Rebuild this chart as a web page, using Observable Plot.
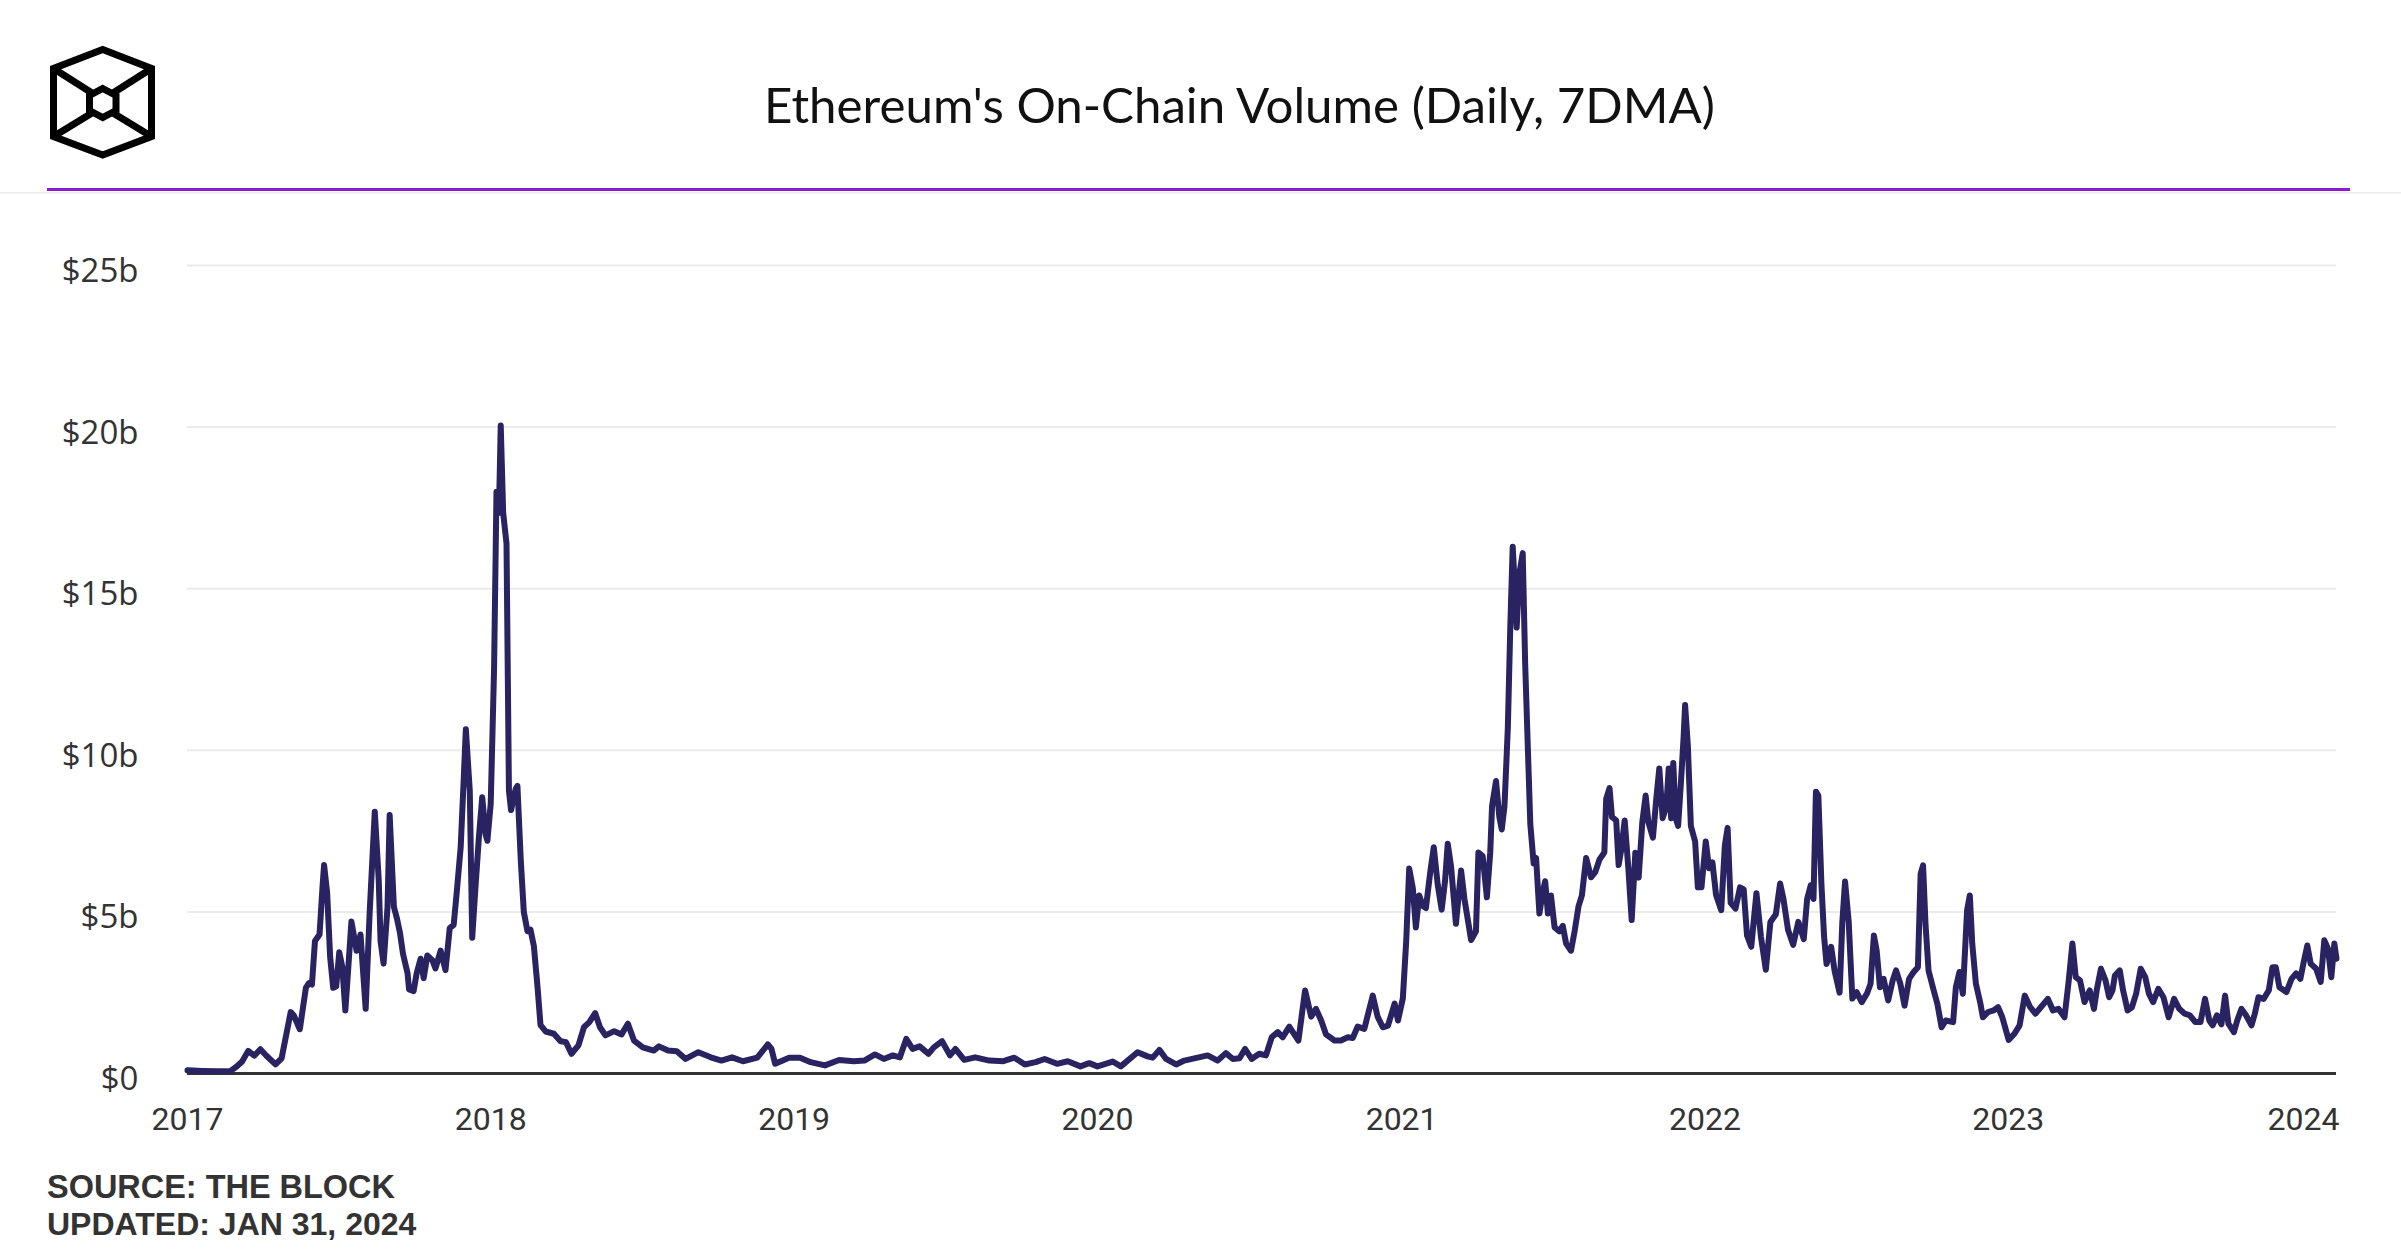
<!DOCTYPE html>
<html>
<head>
<meta charset="utf-8">
<script src="https://cdn.jsdelivr.net/npm/d3@7"></script>
<script src="https://cdn.jsdelivr.net/npm/@observablehq/plot@0.6"></script>
<style>
  html, body { margin: 0; padding: 0; background: #fff; }
  #page { position: relative; width: 2401px; height: 1260px; overflow: hidden; background: #fff; }
  #overlay { position: absolute; left: 0; top: 0; }
  #chart { position: absolute; left: 0; top: 200px; }
  #chart svg { overflow: visible; }
</style>
</head>
<body>
<div id="page">
  <svg id="overlay" width="2401" height="1260">
    <!-- logo -->
    <g fill="none" stroke="#000" stroke-width="7" stroke-linejoin="miter">
      <polygon points="102.7,49.5 151.5,68.5 151.5,136.5 102.7,155 53.5,136.5 53.5,68.5"/>
      <polygon points="102.7,88.5 116,95.5 116,110.5 102.7,117.5 89.5,110.5 89.5,95.5"/>
      <line x1="53.5" y1="68.5" x2="92" y2="93"/>
      <line x1="151.5" y1="68.5" x2="113" y2="93"/>
      <line x1="53.5" y1="136.5" x2="92" y2="113"/>
      <line x1="151.5" y1="136.5" x2="113" y2="113"/>
    </g>
    <text id="title" x="1239.5" y="123" text-anchor="middle" font-family="Lato" font-size="48" fill="#111">Ethereum's On-Chain Volume (Daily, 7DMA)</text>
    <rect x="0" y="192" width="2401" height="1.5" fill="#ececec"/>
    <rect x="47" y="188" width="2303" height="3" fill="#8a1dcf"/>
    <text id="src1" x="47" y="1198" font-family="Liberation Sans" font-weight="bold" font-size="32" fill="#333">SOURCE: THE BLOCK</text>
    <text id="src2" x="47" y="1235" font-family="Liberation Sans" font-weight="bold" font-size="32" fill="#333">UPDATED: JAN 31, 2024</text>
  </svg>
  <div id="chart"></div>
</div>
<script>
// ---- data ----
// time in years since 2017-01-01
const yearsSince2017 = [
  0.000,0.050,0.100,0.142,0.160,0.180,0.200,0.220,0.240,0.260,0.290,0.310,0.340,0.350,0.370,0.390,0.400,0.410,0.420,0.435,
  0.445,0.450,0.460,0.470,0.480,0.490,0.500,0.510,0.520,0.530,0.540,0.557,0.570,0.587,0.600,0.617,0.630,0.636,0.646,0.659,
  0.666,0.680,0.690,0.700,0.710,0.725,0.730,0.745,0.755,0.768,0.778,0.790,0.807,0.817,0.834,0.850,0.864,0.877,0.887,0.900,
  0.910,0.917,0.930,0.938,0.949,0.960,0.971,0.982,0.988,0.999,1.010,1.018,1.026,1.032,1.040,1.051,1.059,1.066,1.081,1.087,
  1.098,1.108,1.120,1.130,1.141,1.153,1.163,1.180,1.207,1.229,1.247,1.265,1.288,1.306,1.324,1.343,1.359,1.377,1.406,1.430,
  1.451,1.471,1.500,1.536,1.553,1.583,1.612,1.641,1.683,1.724,1.759,1.794,1.830,1.877,1.912,1.924,1.936,1.982,2.018,2.053,
  2.100,2.147,2.195,2.230,2.265,2.294,2.324,2.347,2.368,2.389,2.412,2.441,2.459,2.486,2.512,2.530,2.559,2.595,2.642,2.688,
  2.724,2.759,2.794,2.824,2.865,2.900,2.942,2.971,2.998,3.048,3.075,3.130,3.163,3.180,3.202,3.224,3.257,3.284,3.328,3.361,
  3.394,3.421,3.444,3.466,3.484,3.506,3.531,3.553,3.572,3.592,3.608,3.630,3.660,3.682,3.702,3.718,3.735,3.751,3.779,3.800,
  3.823,3.839,3.855,3.877,3.905,3.921,3.938,3.955,3.977,3.988,4.004,4.015,4.025,4.037,4.047,4.058,4.070,4.080,4.095,4.106,
  4.119,4.132,4.143,4.152,4.163,4.179,4.196,4.207,4.229,4.245,4.253,4.267,4.281,4.292,4.298,4.311,4.322,4.330,4.339,4.350,
  4.358,4.366,4.374,4.379,4.388,4.399,4.407,4.416,4.424,4.435,4.443,4.454,4.465,4.473,4.482,4.492,4.504,4.520,4.531,4.542,
  4.558,4.570,4.583,4.594,4.608,4.624,4.638,4.652,4.668,4.674,4.685,4.693,4.707,4.715,4.724,4.735,4.747,4.758,4.770,4.781,
  4.793,4.804,4.813,4.828,4.839,4.849,4.860,4.872,4.880,4.888,4.895,4.903,4.911,4.920,4.929,4.934,4.943,4.953,4.967,4.976,
  4.988,5.002,5.013,5.024,5.036,5.053,5.065,5.074,5.084,5.100,5.115,5.127,5.138,5.152,5.169,5.184,5.200,5.215,5.233,5.247,
  5.258,5.273,5.290,5.307,5.325,5.336,5.348,5.357,5.365,5.373,5.383,5.392,5.400,5.415,5.427,5.443,5.452,5.461,5.473,5.485,
  5.499,5.516,5.533,5.545,5.556,5.565,5.576,5.588,5.603,5.618,5.629,5.643,5.657,5.672,5.687,5.701,5.710,5.718,5.726,5.736,
  5.753,5.765,5.779,5.793,5.817,5.826,5.838,5.849,5.863,5.872,5.880,5.892,5.907,5.915,5.932,5.950,5.965,5.979,6.000,6.019,
  6.036,6.053,6.071,6.088,6.106,6.129,6.146,6.164,6.184,6.198,6.210,6.221,6.235,6.250,6.267,6.281,6.290,6.304,6.319,6.331,
  6.342,6.350,6.366,6.377,6.392,6.406,6.420,6.435,6.450,6.462,6.476,6.493,6.510,6.527,6.545,6.562,6.580,6.597,6.615,6.632,
  6.647,6.661,6.672,6.686,6.701,6.713,6.724,6.742,6.753,6.767,6.782,6.800,6.811,6.823,6.840,6.857,6.869,6.880,6.892,6.915,
  6.932,6.947,6.961,6.972,6.984,6.995,7.013,7.028,7.040,7.052,7.063,7.073,7.080
];
// on-chain volume, billions of USD (7-day moving average)
const volumeB = [
  0.10,0.08,0.07,0.08,0.20,0.37,0.70,0.55,0.75,0.55,0.28,0.47,1.90,1.80,1.37,2.65,2.80,2.75,4.10,4.30,
  5.80,6.45,5.60,3.60,2.65,2.70,3.75,3.30,1.95,3.30,4.70,3.80,4.30,2.00,4.95,8.10,6.00,4.10,3.40,5.15,
  8.00,5.15,4.80,4.35,3.70,3.10,2.60,2.55,3.10,3.55,2.95,3.65,3.50,3.25,3.80,3.20,4.50,4.60,5.60,7.00,
  9.10,10.65,8.75,4.20,5.80,7.30,8.55,7.40,7.20,8.35,12.50,18.00,17.35,20.05,17.35,16.40,8.75,8.15,8.80,8.90,
  6.60,5.00,4.40,4.45,3.95,2.70,1.50,1.30,1.23,1.00,0.97,0.61,0.87,1.43,1.59,1.87,1.43,1.18,1.31,1.21,
  1.54,1.02,0.81,0.71,0.84,0.71,0.69,0.45,0.66,0.50,0.40,0.50,0.38,0.49,0.90,0.76,0.30,0.49,0.49,0.35,
  0.25,0.42,0.38,0.40,0.59,0.45,0.56,0.50,1.07,0.76,0.84,0.61,0.81,1.00,0.56,0.76,0.42,0.50,0.40,0.38,
  0.49,0.28,0.35,0.45,0.30,0.38,0.22,0.32,0.22,0.37,0.22,0.66,0.53,0.49,0.73,0.45,0.28,0.40,0.49,0.56,
  0.40,0.63,0.45,0.47,0.76,0.45,0.61,0.56,1.12,1.28,1.12,1.45,1.02,2.57,1.76,2.00,1.64,1.21,1.02,1.02,
  1.12,1.10,1.45,1.38,2.41,1.76,1.43,1.48,2.16,1.64,2.32,4.07,6.34,5.73,4.52,5.51,5.18,5.12,6.28,7.00,
  5.84,5.07,5.95,7.11,6.40,4.63,6.28,5.40,4.13,4.40,6.84,6.73,5.45,6.84,8.28,9.05,7.94,7.55,8.28,10.70,
  13.80,16.30,14.90,13.80,15.46,16.10,12.70,10.04,7.72,6.50,6.67,4.95,5.62,5.95,4.95,5.51,4.52,4.40,4.57,4.02,
  3.80,4.40,5.18,5.51,6.67,6.07,6.23,6.62,6.84,8.50,8.83,7.94,7.83,6.45,6.95,7.83,6.35,4.75,6.83,6.06,
  7.78,8.60,7.78,7.30,8.49,9.44,7.90,8.25,9.44,7.90,9.61,7.90,7.66,8.96,10.40,11.40,10.15,7.66,7.18,5.76,
  5.76,7.18,6.35,6.53,5.52,5.05,7.06,7.60,5.28,5.10,5.76,5.70,4.27,3.92,5.58,4.22,3.21,4.69,4.93,5.88,
  5.40,4.45,3.98,4.69,4.16,5.40,5.82,5.40,8.72,8.60,5.88,4.22,3.39,3.92,3.15,2.50,4.69,5.94,4.69,2.32,
  2.52,2.21,2.47,2.78,4.27,3.81,2.67,2.93,2.26,2.88,3.19,2.78,2.10,2.93,3.14,3.29,6.18,6.44,4.63,3.19,
  2.57,2.16,1.43,1.64,1.59,2.67,3.14,2.47,5.05,5.51,4.02,2.78,2.16,1.74,1.90,1.95,2.05,1.74,1.04,1.23,
  1.49,2.41,2.05,1.85,2.05,2.31,1.95,2.00,1.74,2.88,4.02,2.98,2.88,2.21,2.57,2.00,2.57,3.24,2.88,2.36,
  2.57,3.03,3.19,2.57,1.95,2.05,2.47,3.24,2.98,2.47,2.21,2.62,2.36,1.74,2.31,2.00,1.85,1.80,1.59,1.59,
  2.31,1.64,1.49,1.80,1.52,2.41,1.54,1.28,1.64,2.00,1.80,1.49,1.85,2.36,2.31,2.57,3.29,3.29,2.67,2.52,
  2.93,3.10,2.93,3.45,3.96,3.40,3.24,2.83,4.12,3.86,2.98,4.02,3.55
];
const yTicks = [0, 5, 10, 15, 20, 25];
const xTickYears = [2017, 2018, 2019, 2020, 2021, 2022, 2023, 2024];

// ---- build ----
const t0 = Date.UTC(2017, 0, 1);
const msPerYear = 365.25 * 86400000;
const data = yearsSince2017.map((y, i) => ({ date: new Date(t0 + y * msPerYear), v: volumeB[i] }));
const xTicks = xTickYears.map(y => new Date(Date.UTC(y, 0, 1)));
const xTicksMain = xTicks.slice(0, -1);
const xTicksLast = xTicks.slice(-1);

const xAxisStyle = {
  tickSize: 0, tickPadding: 34,
  tickFormat: d => String(d.getUTCFullYear()),
  fontSize: 32, fontFamily: "Roboto", fill: "#333", label: null
};

const chart = Plot.plot({
  width: 2401,
  height: 960,
  marginTop: 65,
  marginBottom: 87,
  marginLeft: 187,
  marginRight: 65,
  style: { background: "transparent", overflow: "visible" },
  x: { type: "utc", domain: [new Date(t0), new Date(Date.UTC(2024, 0, 31))], label: null },
  y: { domain: [0, 25], label: null },
  marks: [
    Plot.gridY(yTicks, { stroke: "#ebebeb", strokeOpacity: 1, strokeWidth: 2 }),
    Plot.axisY(yTicks, {
      tickSize: 0, tickPadding: 49, dy: 6,
      tickFormat: d => d === 0 ? "$0" : `$${d}b`,
      fontSize: 33, fontFamily: "Open Sans", fill: "#333", label: null
    }),
    Plot.axisX(xTicksMain, xAxisStyle),
    Plot.axisX(xTicksLast, { ...xAxisStyle, dx: -8 }),
    Plot.ruleY([0], { stroke: "#333", strokeWidth: 3 }),
    Plot.line(data, { x: "date", y: "v", stroke: "#2a2361", strokeWidth: 6, strokeLinejoin: "round", strokeLinecap: "round" })
  ]
});
document.getElementById("chart").appendChild(chart);

// fit text widths to the reference
function fitWidth(id, target) {
  const el = document.getElementById(id);
  const fs = parseFloat(el.getAttribute("font-size"));
  const w = el.getComputedTextLength();
  if (w > 0) el.setAttribute("font-size", (fs * target / w).toFixed(2));
}
fitWidth("title", 951);
fitWidth("src1", 348);
</script>
</body>
</html>
